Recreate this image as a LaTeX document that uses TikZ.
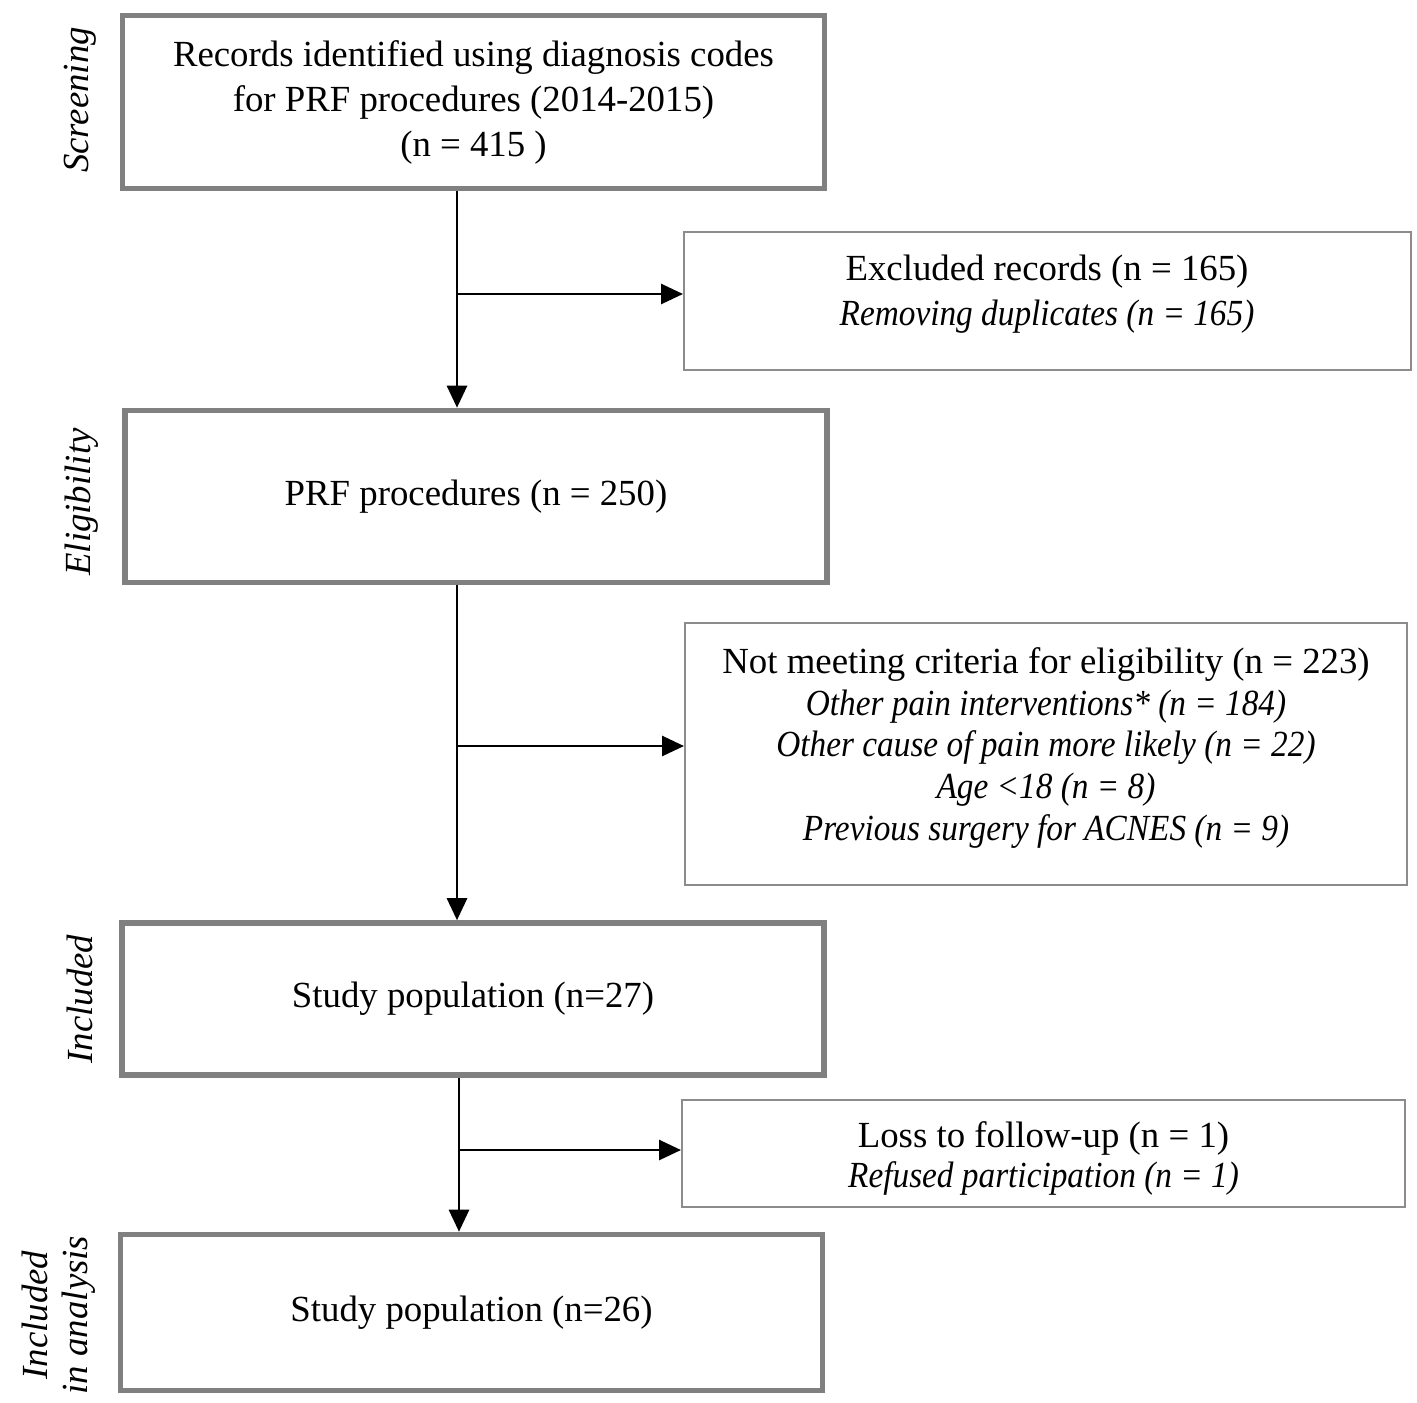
\documentclass[tikz,border=0pt]{standalone}
\usepackage{fontspec}
\setmainfont{Liberation Serif}
\newfontfamily\sideit[FakeStretch=0.905]{Liberation Serif}
\usepackage{tikz}
\usetikzlibrary{arrows.meta, positioning, calc}
\definecolor{boxgray}{RGB}{128, 128, 128}
\definecolor{thingray}{RGB}{140, 140, 140}
\newcommand{\reason}[1]{{\sideit\itshape #1}}

\begin{document}
\begin{tikzpicture}[
    x=0.5pt, y=-0.5pt,
    every node/.style={font=\fontsize{18.4}{22.5}\selectfont, inner sep=0pt},
    mainbox/.style={rectangle, draw=boxgray, line width=2.8pt, minimum width=351pt, align=center},
    sidebox/.style={rectangle, draw=thingray, line width=1pt, align=center},
    phase/.style={rotate=90, align=center, font=\fontsize{18.4}{20}\selectfont\itshape},
    arrow/.style={-{Triangle[length=11pt, width=10pt]}, line width=1.4pt, black}
]
\useasboundingbox (0,0) rectangle (1417,1402);

% Main boxes
\node[mainbox, minimum height=86.5pt] (records) at (473.5,102) {Records identified using diagnosis codes\\for PRF procedures (2014-2015)\\(n = 415 )};
\node[mainbox, minimum height=86pt] (prf) at (476,496.5) {PRF procedures (n = 250)};
\node[mainbox, minimum height=76pt] (study) at (473,999) {Study population (n=27)};
\node[mainbox, minimum height=78pt] (analysis) at (471.5,1312.5) {Study population (n=26)};

% Side boxes
\node[sidebox, minimum width=363.5pt, minimum height=69pt] (excluded) at (1047.5,301) {};
\node[align=center] (excludedtxt) at (1047,294) {Excluded records (n = 165)\\\reason{Removing duplicates (n = 165)}};
\node[sidebox, minimum width=361pt, minimum height=131pt] (notmeet) at (1046,754) {};
\node[align=center, font=\fontsize{18.4}{20.8}\selectfont] (notmeettxt) at (1046,748) {Not meeting criteria for eligibility (n = 223)\\
  \reason{Other pain interventions* (n = 184)}\\
  \reason{Other cause of pain more likely (n = 22)}\\
  \reason{Age <18 (n = 8)}\\
  \reason{Previous surgery for ACNES (n = 9)}};
\node[sidebox, minimum width=361.5pt, minimum height=53.5pt] (loss) at (1043.5,1153.5) {};
\node[align=center, font=\fontsize{18.4}{20}\selectfont] (losstxt) at (1043.5,1158) {Loss to follow-up (n = 1)\\\reason{Refused participation (n = 1)}};

% Phase labels
\node[phase] (screening) at (80,100) {Screening};
\node[phase] (eligibility) at (82,502) {Eligibility};
\node[phase] (included) at (80,999) {Included};
\node[phase] (inanalysis) at (59,1315) {Included\\in analysis};

% Arrows
\coordinate (j1) at (457,294);
\coordinate (j2) at (457,746);
\coordinate (j3) at (459,1150);
\draw[arrow] (records.south -| j1) -- (prf.north -| j1);
\draw[arrow] (j1) -- (excluded.west |- j1);
\draw[arrow] (prf.south -| j2) -- (study.north -| j2);
\draw[arrow] (j2) -- (notmeet.west |- j2);
\draw[arrow] (study.south -| j3) -- (analysis.north -| j3);
\draw[arrow] (j3) -- (loss.west |- j3);
\end{tikzpicture}
\end{document}
